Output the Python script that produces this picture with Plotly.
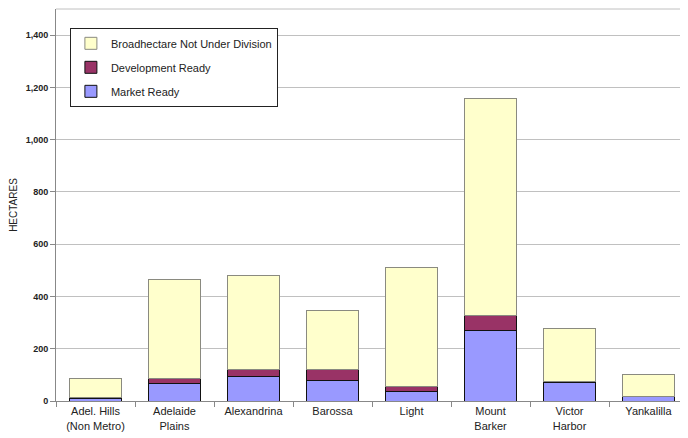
import plotly.graph_objects as go

categories = ["Adel. Hills<br>(Non Metro)", "Adelaide<br>Plains", "Alexandrina", "Barossa",
              "Light", "Mount<br>Barker", "Victor<br>Harbor", "Yankalilla"]
market_ready = [8, 66, 94, 78, 37, 269, 72, 17]
development_ready = [4, 19, 27, 41, 20, 60, 3, 2]
broadhectare = [73, 381, 361, 226, 452, 830, 201, 82]
y_ticks = [0, 200, 400, 600, 800, 1000, 1200, 1400]
y_tick_labels = ["0", "200", "400", "600", "800", "1,000", "1,200", "1,400"]

fig = go.Figure()
fig.add_trace(go.Bar(x=categories, y=market_ready, name="Market Ready", legendgroup="a", legendrank=3,
                     marker=dict(color="#9999FF", line=dict(color="#111111", width=1))))
fig.add_trace(go.Bar(x=categories, y=development_ready, name="Development Ready", legendgroup="b", legendrank=2,
                     marker=dict(color="#993366", line=dict(color="#111111", width=1))))
fig.add_trace(go.Bar(x=categories, y=broadhectare, name="Broadhectare Not Under Division", legendgroup="c",
                     legendrank=1,
                     marker=dict(color="#FFFFCC", line=dict(color="#8a8a80", width=1))))

fig.update_layout(
    barmode="stack",
    bargap=0.33,
    width=680, height=430,
    margin=dict(l=48, r=0, t=1, b=37),
    paper_bgcolor="white", plot_bgcolor="white",
    font=dict(family="Liberation Sans, Arial, sans-serif", size=11, color="#222222"),
    showlegend=True,
    legend=dict(x=0.022, y=0.952, xanchor="left", yanchor="top",
                bordercolor="#222222", borderwidth=1, bgcolor="white",
                traceorder="grouped", tracegroupgap=5,
                font=dict(size=11, color="#222222"), itemwidth=30),
    xaxis=dict(showline=True, linecolor="#888888", ticks="outside", tickson="boundaries",
               ticklen=5, tickcolor="#888888", tickfont=dict(size=11), range=[-0.5, 7.5]),
    yaxis=dict(range=[0, 1500], tickvals=y_ticks, ticktext=y_tick_labels,
               showgrid=True, gridcolor="#c0c0c0", gridwidth=1,
               showline=True, linecolor="#888888", ticks="outside", ticklen=5, tickcolor="#888888",
               tickfont=dict(size=9, color="#222222", weight="bold"),
               title=dict(text="HECTARES", font=dict(size=10), standoff=6), zeroline=False),
)
fig.add_shape(type="line", xref="paper", yref="paper", x0=0, x1=1, y0=1, y1=1,
              line=dict(color="#c0c0c0", width=1))
fig.write_html("out.html")
